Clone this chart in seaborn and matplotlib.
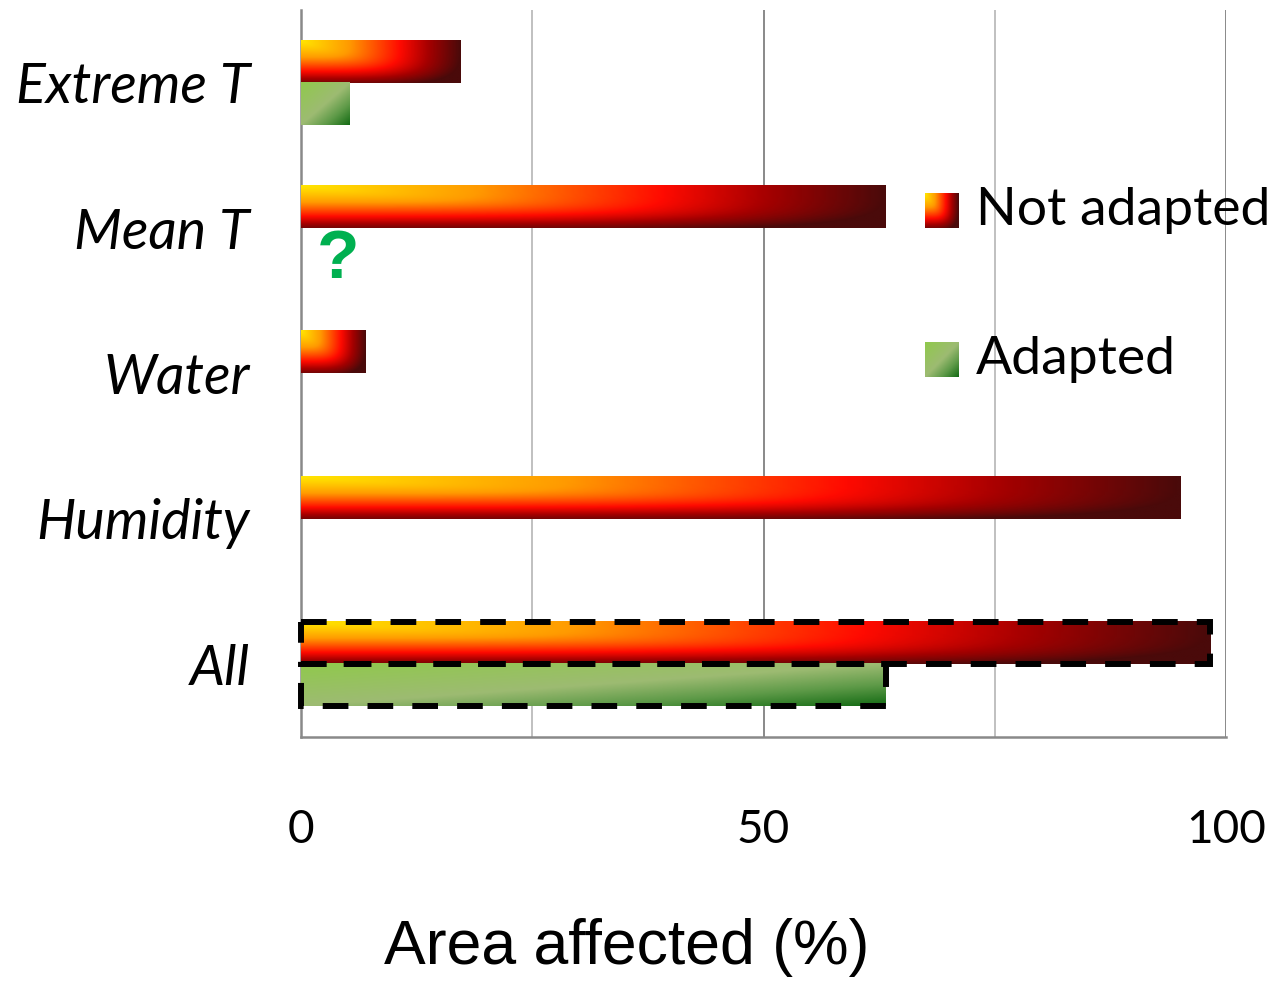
import numpy as np
import pandas as pd
import matplotlib
matplotlib.use('Agg')
import matplotlib.pyplot as plt
from matplotlib.colors import LinearSegmentedColormap
from matplotlib.patches import Rectangle
import seaborn as sns

# Chart data
categories = ['Extreme T', 'Mean T', 'Water', 'Humidity', 'All']
not_adapted = [17.2, 63.2, 7.0, 95.1, 98.3]
adapted = [5.2, np.nan, np.nan, np.nan, 63.2]
series = ['Not adapted', 'Adapted']
outlined = ['All']
x_ticks = [0, 50, 100]
unknown_label = '?'
unknown_cat = 'Mean T'

sns.set_style('white')
plt.rcParams['font.family'] = ['Lato', 'DejaVu Sans']
plt.rcParams['text.color'] = 'black'
plt.rcParams['xtick.labelcolor'] = 'black'
plt.rcParams['ytick.labelcolor'] = 'black'

GRAY = '#898989'
LIGHT = '#C0C0C0'

red_cmap = LinearSegmentedColormap.from_list('hot_bar', [
    (0.0, '#FFE500'), (0.3, '#FF9A00'), (0.62, '#FF0A00'),
    (0.8, '#A50000'), (1.0, '#4A0A0A')])
green_cmap = LinearSegmentedColormap.from_list('green_bar', [
    (0.0, '#90C94C'), (0.5, '#9DBB72'), (0.75, '#5E9A48'), (1.0, '#146B14')])


def red_field(nx=300, ny=60):
    # corner-type gradient: bright at top-left, dark at right and bottom
    X, Y = np.meshgrid(np.linspace(0, 1, nx), np.linspace(0, 1, ny))
    Yw = 0.9 * Y ** 1.2
    return np.clip((X ** 4 + Yw ** 4) ** 0.25, 0, 1)


def green_field(nx=300, ny=60):
    X, Y = np.meshgrid(np.linspace(0, 1, nx), np.linspace(0, 1, ny))
    return (X + Y) / 2


fields = {'Not adapted': (red_field, red_cmap), 'Adapted': (green_field, green_cmap)}

df = pd.DataFrame({
    'category': categories * 2,
    'value': not_adapted + adapted,
    'series': [series[0]] * len(categories) + [series[1]] * len(categories),
})

fig = plt.figure(figsize=(12.74, 9.83), dpi=100)
ax = fig.add_axes([0.2363, 0.2503, 0.726, 0.7396])

sns.barplot(data=df, y='category', x='value', hue='series', order=categories,
            hue_order=series, orient='h', width=0.58, legend=False, ax=ax,
            errorbar=None)

# replace flat bars by gradient images
for level, container in zip(series, ax.containers):
    func, cmap = fields[level]
    for bar in container:
        w = bar.get_width()
        if not np.isfinite(w) or w <= 0:
            continue
        y0 = bar.get_y()
        h = bar.get_height()
        bar.set_facecolor('none')
        bar.set_edgecolor('none')
        ax.imshow(func(), cmap=cmap, vmin=0, vmax=1, aspect='auto',
                  origin='upper', extent=(0, w, y0 + h, y0), zorder=3,
                  interpolation='bilinear')
        cat = categories[int(round(y0 + h / 2))]
        if cat in outlined:
            ax.add_patch(Rectangle((0, y0), w, h, fill=False, edgecolor='black',
                                   lw=4.3, linestyle=(0, (4.3, 3.2)), zorder=4,
                                   clip_on=False))

# question mark for the missing adapted value
ax.text(4, categories.index(unknown_cat) + 0.22, unknown_label, color='#00B050',
        fontsize=50, fontweight='bold', family='Liberation Sans',
        ha='center', va='center', zorder=5)

ax.set_xlim(0, 100)
ax.set_ylim(len(categories) - 0.5, -0.5)

ax.set_xticks(x_ticks)
ax.set_xticks([25, 75], minor=True)
ax.xaxis.grid(True, which='major', color=GRAY, lw=1.4, zorder=0)
ax.xaxis.grid(True, which='minor', color=LIGHT, lw=1.4, zorder=0)
ax.set_axisbelow(True)
ax.tick_params(axis='x', which='major', direction='out', length=12, width=1.4,
               color=GRAY, pad=40, labelsize=33)
ax.tick_params(axis='x', which='minor', length=0)

ax.set_yticks(range(len(categories)))
ax.set_yticklabels(categories, fontstyle='italic')
ax.set_yticks(np.arange(-0.5, len(categories), 1.0), minor=True)
ax.tick_params(axis='y', which='major', length=0, pad=37, labelsize=40)
ax.tick_params(axis='y', which='minor', direction='in', length=12, width=1.8,
               color=GRAY)

ax.set_xlabel('')
ax.set_ylabel('')
for side in ['top', 'right']:
    ax.spines[side].set_visible(False)
for side in ['left', 'bottom']:
    ax.spines[side].set_color(GRAY)
    ax.spines[side].set_linewidth(1.8)

# legend with gradient swatches
for level, ypos in zip(series, [0.724, 0.519]):
    func, cmap = fields[level]
    sw = ax.inset_axes([0.6746, ypos - 0.024, 0.0357, 0.048])
    sw.imshow(func(60, 60), cmap=cmap, vmin=0, vmax=1, aspect='auto',
              origin='upper', interpolation='bilinear')
    sw.set_axis_off()
    ax.text(0.7297, ypos, level, transform=ax.transAxes, fontsize=38.5,
            va='center', ha='left')

fig.text(0.492, 0.036, 'Area affected (%)', family='Liberation Sans',
         fontsize=45, ha='center', va='center')

fig.savefig('out.png', dpi=100)
